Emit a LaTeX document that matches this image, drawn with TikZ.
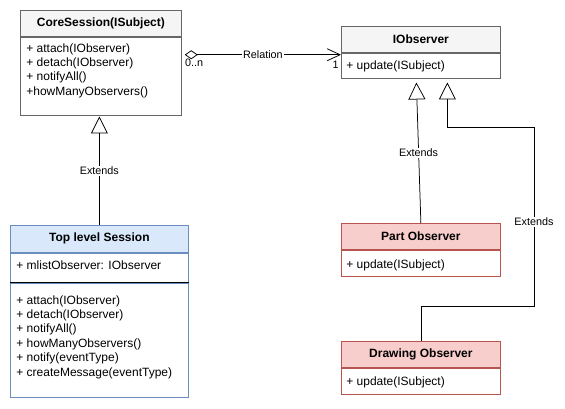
\documentclass[tikz,border=0pt]{standalone}
\usepackage{fontspec}
\setmainfont{Liberation Sans}
\usepackage{tikz}
\usetikzlibrary{arrows.meta,positioning}

\definecolor{headgray}{HTML}{F5F5F5}
\definecolor{linegray}{HTML}{666666}
\definecolor{bluehead}{HTML}{DAE8FC}
\definecolor{blueline}{HTML}{6C8EBF}
\definecolor{redhead}{HTML}{F8CECC}
\definecolor{redline}{HTML}{B85450}

\tikzset{
  classhead/.style={draw=linegray, fill=headgray, anchor=north west, inner sep=0pt,
    font=\fontsize{12}{14.4}\selectfont\bfseries},
  classbody/.style={draw=linegray, fill=white, inner sep=0pt},
  members/.style={anchor=north west, align=left, inner sep=0pt,
    font=\fontsize{12}{14.4}\selectfont},
  conlabel/.style={fill=white, inner sep=1pt, font=\fontsize{10.8}{12}\selectfont},
  extends/.style={-{Triangle[open, length=17pt, width=17pt]}},
  relation/.style={{Diamond[open, length=13pt, width=9pt]}-{Straight Barb[length=13pt, width=12pt]}}
}

\begin{document}
\begin{tikzpicture}[x=1pt, y=-1pt, line width=0.75pt]
\useasboundingbox (0,0) rectangle (565,409);

% subject side
\node[classhead, minimum width=161, minimum height=26] (corehead) at (20,10) {CoreSession(ISubject)};
\node[classbody, minimum width=161, minimum height=78, below=0pt of corehead] (corebody) {};
\node[members] (coretext) at (26,43) {+ attach(IObserver)\\+ detach(IObserver)\\+ notifyAll()\\+howManyObservers()};

\node[classhead, draw=blueline, fill=bluehead, minimum width=178, minimum height=27] (tlshead) at (10,225) {Top level Session};
\node[classbody, draw=blueline, minimum width=178, minimum height=29, below=0pt of tlshead] (tlsattr) {};
\node[classbody, draw=blueline, minimum width=178, minimum height=114, below=0pt of tlsattr] (tlsbody) {};
\draw (tlsattr.south west) -- (tlsattr.south east);
\node[members] (tlsattrtext) at (16,260) {+ mlistObserver: IObserver};
\node[members] (tlstext) at (16,295) {+ attach(IObserver)\\+ detach(IObserver)\\+ notifyAll()\\+ howManyObservers()\\+ notify(eventType)\\+ createMessage(eventType)};

% observer side
\node[classhead, minimum width=159, minimum height=26] (obshead) at (341,26) {IObserver};
\node[classbody, minimum width=159, minimum height=25, below=0pt of obshead] (obsbody) {};
\node[members] (obstext) at (346,60.5) {+ update(ISubject)};

\node[classhead, draw=redline, fill=redhead, minimum width=159, minimum height=26] (parthead) at (341,223) {Part Observer};
\node[classbody, draw=redline, minimum width=159, minimum height=26, below=0pt of parthead] (partbody) {};
\node[members] (parttext) at (346,259) {+ update(ISubject)};

\node[classhead, draw=redline, fill=redhead, minimum width=159, minimum height=26] (drawhead) at (341,341) {Drawing Observer};
\node[classbody, draw=redline, minimum width=159, minimum height=26, below=0pt of drawhead] (drawbody) {};
\node[members] (drawtext) at (346,376) {+ update(ISubject)};

% connectors
\draw[relation] ([xshift=3, yshift=-18]corebody.north east) coordinate (relstart)
  -- (relstart -| obsbody.west) coordinate (relend) node[conlabel, pos=0.5] {Relation};
\node[conlabel, fill=none, anchor=north west] (relmany) at ([xshift=-1, yshift=-3]relstart) {0..n};
\node[conlabel, fill=none, anchor=north east] (relone) at ([xshift=-1, yshift=-5]relend) {1};

\draw[extends] (tlshead.north) -- ([yshift=-1]tlshead.north |- corebody.south) node[conlabel, midway] {Extends};
\draw[extends] (parthead.north) -- ([xshift=-4.5, yshift=-4]obsbody.south) node[conlabel, midway] {Extends};

\coordinate (bendlow) at (534,306);
\coordinate (bendhigh) at (534,127);
\draw[extends] (drawhead.north) |- (bendlow) -- (bendhigh) node[conlabel, pos=0.47] {Extends}
  -| ([xshift=26.5, yshift=-4]obsbody.south);
\end{tikzpicture}
\end{document}
